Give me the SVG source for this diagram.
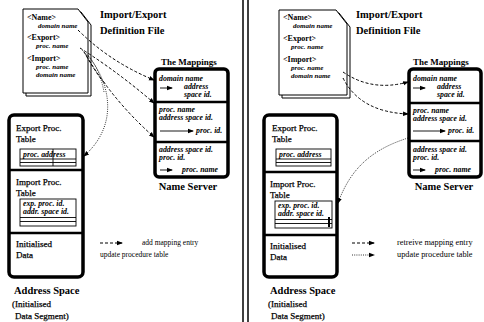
<svg xmlns="http://www.w3.org/2000/svg" width="484" height="322" viewBox="0 0 484 322">
<defs>
<style>
text{font-family:"Liberation Serif","Times New Roman",serif;fill:#000}
.t{font-size:10.5px;font-weight:bold}
.tm{font-size:9px;font-weight:bold}
.lb{font-size:9px;stroke:#000;stroke-width:0.25}
.tg{font-size:8px;font-weight:bold}
.it{font-size:7px;font-style:italic;font-weight:bold}
.im{font-size:7.8px;font-style:italic;font-weight:bold}
.lg{font-size:7.5px}
.lg2{font-size:8.3px}
.doc{fill:#fff;stroke:#000;stroke-width:1}
.box{fill:#fff;stroke:#000;stroke-width:3.5}
.div{stroke:#000;stroke-width:2.5}
.thin{fill:none;stroke:#000;stroke-width:0.9}
.dash{fill:none;stroke:#000;stroke-width:1;stroke-dasharray:3,2}
.dot{fill:none;stroke:#000;stroke-width:0.8;stroke-dasharray:1,1.2}
.arr{stroke:#000;stroke-width:0.9}
</style>
<marker id="ah" markerWidth="6" markerHeight="6" refX="5" refY="3" orient="auto" markerUnits="userSpaceOnUse">
<path d="M0,0.8 L6,3 L0,5.2 Z" fill="#000"/>
</marker>
</defs>
<rect width="484" height="322" fill="#fff"/>

<!-- divider -->
<line x1="243" y1="0" x2="243" y2="322" stroke="#000" stroke-width="1.5"/>
<line x1="248" y1="0" x2="248" y2="322" stroke="#000" stroke-width="1.5"/>

<!-- LEFT PANEL -->
<g id="left-file">
<polygon class="doc" points="26,12 81,12 91,25 91,96 26,96"/>
<polygon class="doc" points="23,9 78,9 88,22 88,93 23,93"/>
<text class="tg" x="27" y="20">&lt;Name&gt;</text>
<text class="it" x="38" y="28">domain name</text>
<text class="tg" x="27" y="40">&lt;Export&gt;</text>
<text class="it" x="36" y="48">proc. name</text>
<text class="tg" x="27" y="61">&lt;Import&gt;</text>
<text class="it" x="36" y="69">proc. name</text>
<text class="it" x="36" y="77">domain name</text>
<text class="t" x="100" y="18">Import/Export</text>
<text class="t" x="100" y="34">Definition File</text>
</g>

<g id="left-nameserver">
<text class="tm" x="161" y="65">The Mappings</text>
<rect class="box" x="155" y="69" width="73" height="108" rx="4"/>
<line class="div" x1="155" y1="102" x2="228" y2="102"/>
<line class="div" x1="155" y1="142" x2="228" y2="142"/>
<text class="im" x="159" y="81">domain name</text>
<line class="arr" x1="160" y1="88" x2="172" y2="88" marker-end="url(#ah)"/>
<text class="im" x="184" y="89">address</text>
<text class="im" x="184" y="97">space id.</text>
<text class="im" x="159" y="112">proc. name</text>
<text class="im" x="159" y="120">address space id.</text>
<line class="arr" x1="160" y1="131" x2="193" y2="131" marker-end="url(#ah)"/>
<text class="im" x="196" y="133">proc. id.</text>
<text class="im" x="159" y="152">address space id.</text>
<text class="im" x="159" y="160">proc. id.</text>
<line class="arr" x1="160" y1="170" x2="172" y2="170" marker-end="url(#ah)"/>
<text class="im" x="182" y="172">proc. name</text>
<text class="t" x="188" y="190" text-anchor="middle">Name Server</text>
</g>

<g id="left-addrspace">
<rect class="box" x="9" y="115" width="74" height="162" rx="5"/>
<line class="div" x1="9" y1="170" x2="83" y2="170"/>
<line class="div" x1="9" y1="233" x2="83" y2="233"/>
<text class="lb" x="16" y="131">Export Proc.</text>
<text class="lb" x="16" y="142">Table</text>
<rect class="thin" x="20" y="149" width="56" height="17"/>
<text class="im" x="23" y="157">proc. address</text>
<line class="thin" x1="20" y1="159" x2="76" y2="159"/>
<line class="thin" x1="20" y1="162.5" x2="76" y2="162.5"/>
<line class="thin" x1="53" y1="149" x2="53" y2="166"/>
<text class="lb" x="16" y="185">Import Proc.</text>
<text class="lb" x="16" y="196">Table</text>
<rect class="thin" x="20" y="199" width="56" height="27"/>
<text class="im" x="23" y="206">exp. proc. id.</text>
<text class="im" x="23" y="214">addr. space id.</text>
<line class="thin" x1="20" y1="217.5" x2="76" y2="217.5"/>
<line class="thin" x1="20" y1="221.5" x2="76" y2="221.5"/>
<text class="lb" x="16" y="247">Initialised</text>
<text class="lb" x="16" y="258">Data</text>
<text class="t" x="14" y="294">Address Space</text>
<text class="lb" x="12" y="307">(Initialised</text>
<text class="lb" x="15" y="319">Data Segment)</text>
</g>

<g id="left-legend">
<line class="dash" x1="100" y1="243" x2="122" y2="243" marker-end="url(#ah)"/>
<text class="lg" x="142" y="245">add mapping entry</text>
<text class="lg" x="100" y="257">update procedure table</text>
</g>

<g id="left-connectors">
<path class="dash" d="M78,30 Q110,62 154,80" marker-end="url(#ah)"/>
<path class="dash" d="M80,48 Q118,72 154,103" marker-end="url(#ah)"/>
<path class="dash" d="M84,52 Q112,100 154,137" marker-end="url(#ah)"/>
<path class="dash" d="M86,55 Q100,80 106,84"/>
<path class="dot" d="M82,50 C105,70 125,120 84,156" marker-end="url(#ah)"/>
<path class="dot" d="M88,55 Q100,70 104,92"/>
</g>

<!-- RIGHT PANEL -->
<g id="right-file">
<polygon class="doc" points="282,13 339,13 350,27 350,98 282,98"/>
<polygon class="doc" points="279,10 336,10 347,24 347,95 279,95"/>
<text class="tg" x="283" y="20">&lt;Name&gt;</text>
<text class="it" x="293" y="28">domain name</text>
<text class="tg" x="283" y="41">&lt;Export&gt;</text>
<text class="it" x="291" y="49">proc. name</text>
<text class="tg" x="283" y="62">&lt;Import&gt;</text>
<text class="it" x="291" y="70">proc. name</text>
<text class="it" x="291" y="78">domain name</text>
<text class="t" x="356" y="18">Import/Export</text>
<text class="t" x="356" y="34">Definition File</text>
</g>

<g id="right-nameserver">
<text class="tm" x="413" y="65">The Mappings</text>
<rect class="box" x="409" y="69" width="72" height="108" rx="4"/>
<line class="div" x1="409" y1="103" x2="481" y2="103"/>
<line class="div" x1="409" y1="141" x2="481" y2="141"/>
<text class="im" x="413" y="81">domain name</text>
<line class="arr" x1="413" y1="88" x2="425" y2="88" marker-end="url(#ah)"/>
<text class="im" x="437" y="89">address</text>
<text class="im" x="437" y="97">space id.</text>
<text class="im" x="413" y="113">proc. name</text>
<text class="im" x="413" y="121">address space id.</text>
<line class="arr" x1="413" y1="131" x2="445" y2="131" marker-end="url(#ah)"/>
<text class="im" x="448" y="133">proc. id.</text>
<text class="im" x="413" y="152">address space id.</text>
<text class="im" x="413" y="160">proc. id.</text>
<line class="arr" x1="413" y1="170" x2="425" y2="170" marker-end="url(#ah)"/>
<text class="im" x="435" y="172">proc. name</text>
<text class="t" x="444" y="190" text-anchor="middle">Name Server</text>
</g>

<g id="right-addrspace">
<rect class="box" x="264" y="115" width="73" height="162" rx="5"/>
<line class="div" x1="264" y1="172" x2="337" y2="172"/>
<line class="div" x1="264" y1="235" x2="337" y2="235"/>
<text class="lb" x="272" y="131">Export Proc.</text>
<text class="lb" x="272" y="142">Table</text>
<rect class="thin" x="276" y="149" width="55" height="17"/>
<text class="im" x="279" y="157">proc. address</text>
<line class="thin" x1="276" y1="159" x2="331" y2="159"/>
<line class="thin" x1="276" y1="162.5" x2="331" y2="162.5"/>
<text class="lb" x="270" y="187">Import Proc.</text>
<text class="lb" x="270" y="198">Table</text>
<rect class="thin" x="275" y="201" width="57" height="27"/>
<text class="im" x="278" y="208">exp. proc. id.</text>
<text class="im" x="278" y="216">addr. space id.</text>
<line class="thin" x1="275" y1="219.5" x2="332" y2="219.5"/>
<line class="thin" x1="275" y1="223.5" x2="332" y2="223.5"/>
<line x1="329" y1="217" x2="329" y2="227" stroke="#000" stroke-width="2"/>
<text class="lb" x="270" y="249">Initialised</text>
<text class="lb" x="270" y="260">Data</text>
<text class="t" x="270" y="294">Address Space</text>
<text class="lb" x="268" y="307">(Initialised</text>
<text class="lb" x="271" y="319">Data Segment)</text>
</g>

<g id="right-legend">
<line class="dash" x1="352" y1="243" x2="374" y2="243" marker-end="url(#ah)"/>
<text class="lg2" x="397" y="245">retreive mapping entry</text>
<line class="dot" x1="352" y1="255" x2="374" y2="255" marker-end="url(#ah)"/>
<text class="lg2" x="397" y="257">update procedure table</text>
</g>

<g id="right-connectors">
<path class="dash" d="M343,72 Q372,92 408,82" marker-end="url(#ah)"/>
<path class="dash" d="M343,78 Q360,112 408,114" marker-end="url(#ah)"/>
<path class="dot" d="M408,138 C370,150 350,170 338,203" marker-end="url(#ah)"/>
</g>
</svg>
